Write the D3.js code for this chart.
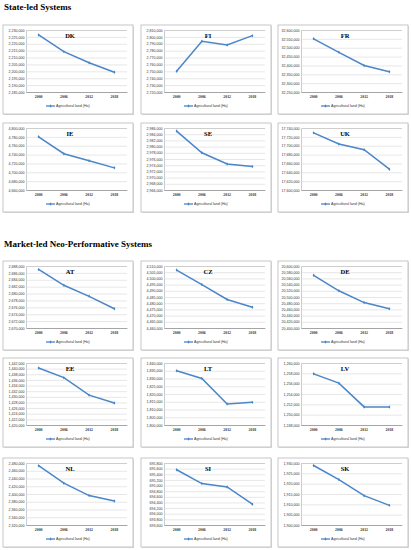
<!DOCTYPE html>
<html>
<head>
<meta charset="utf-8">
<script src="https://cdn.jsdelivr.net/npm/d3@7"></script>
<style>
  body { margin: 0; background: #fff; }
  .groupTitle { font-family: "Liberation Serif", serif; font-weight: bold; font-size: 9px; fill: #000; }
  .panelTitle { font-family: "Liberation Serif", serif; font-weight: bold; font-size: 6.5px; fill: #000; }
  .yTick { font-family: "Liberation Sans", sans-serif; font-size: 3.6px; fill: #333; }
  .xTick { font-family: "Liberation Serif", serif; font-weight: bold; font-size: 3.9px; fill: #333; }
  .legendText { font-family: "Liberation Sans", sans-serif; font-size: 3.6px; fill: #333; }
</style>
</head>
<body>
<div class="chart"></div>
<script>
// Categories
var years = ["2000", "2006", "2012", "2018"];
var legendLabel = "Agricultural land (Ha)";
var groupTitles = ["State-led Systems", "Market-led Neo-Performative Systems"];
var stateLed = ["DK", "FI", "FR", "IE", "SE", "UK"];
var marketLed = ["AT", "CZ", "DE", "EE", "LT", "LV", "NL", "SI", "SK"];

// Series values (Ha)
var dkValues = [2226400, 2214300, 2206200, 2199300];
var fiValues = [2750000, 2793600, 2788300, 2801800];
var frValues = [32550000, 32474000, 32400000, 32364000];
var ieValues = [4780000, 4742000, 4726000, 4710000];
var seValues = [2985000, 2978000, 2974400, 2973600];
var ukValues = [17729000, 17704000, 17691000, 17647000];
var atValues = [2687000, 2682400, 2679200, 2675600];
var czValues = [4506700, 4495000, 4483000, 4476800];
var deValues = [20570000, 20520000, 20482000, 20462000];
var eeValues = [1440200, 1436800, 1430600, 1427800];
var ltValues = [1835000, 1830000, 1813500, 1814600];
var lvValues = [1257900, 1256100, 1251500, 1251500];
var nlValues = [2473000, 2428000, 2396000, 2382000];
var siValues = [695560, 695070, 694950, 694340];
var skValues = [1928800, 1922000, 1914200, 1909500];

// Y tick labels: [lowest tick, highest tick, step]
var dkTicks = [2185000, 2230000, 5000];
var fiTicks = [2720000, 2810000, 10000];
var frTicks = [32250000, 32600000, 50000];
var ieTicks = [4660000, 4800000, 20000];
var seTicks = [2966000, 2986000, 2000];
var ukTicks = [17600000, 17740000, 20000];
var atTicks = [2670000, 2688000, 2000];
var czTicks = [4460000, 4510000, 5000];
var deTicks = [20400000, 20600000, 20000];
var eeTicks = [1420000, 1442000, 2000];
var ltTicks = [1800000, 1840000, 5000];
var lvTicks = [1248000, 1260000, 2000];
var nlTicks = [2320000, 2480000, 20000];
var siTicks = [693600, 695800, 200];
var skTicks = [1900000, 1930000, 5000];

// lookup table built from the arrays above
var panels = {
  DK: { values: dkValues, ticks: dkTicks }, FI: { values: fiValues, ticks: fiTicks },
  FR: { values: frValues, ticks: frTicks }, IE: { values: ieValues, ticks: ieTicks },
  SE: { values: seValues, ticks: seTicks }, UK: { values: ukValues, ticks: ukTicks },
  AT: { values: atValues, ticks: atTicks }, CZ: { values: czValues, ticks: czTicks },
  DE: { values: deValues, ticks: deTicks }, EE: { values: eeValues, ticks: eeTicks },
  LT: { values: ltValues, ticks: ltTicks }, LV: { values: lvValues, ticks: lvTicks },
  NL: { values: nlValues, ticks: nlTicks }, SI: { values: siValues, ticks: siTicks },
  SK: { values: skValues, ticks: skTicks }
};

// Layout
var svgWidth = 411;
var svgHeight = 550;
var colX = [3, 141, 278];
var stateRowY = [25, 123];
var marketRowY = [261, 358, 458];
var boxW = 130;
var boxH = 89;
var plot = { left: 23, right: 6, top: 5, bottom: 67 };
var lineColor = "#4A86C8";

var svg = d3.select(".chart")
  .append("svg")
  .attr("width", svgWidth)
  .attr("height", svgHeight);

// Group titles
svg.append("text").attr("class", "groupTitle").attr("x", 4).attr("y", 9.5).text(groupTitles[0]);
svg.append("text").attr("class", "groupTitle").attr("x", 4).attr("y", 247).text(groupTitles[1]);

function drawPanel(code, x0, y0) {
  var data = panels[code];
  var g = svg.append("g").attr("transform", `translate(${x0}, ${y0})`);

  // frame with a faint shadow
  g.append("rect")
    .attr("x", 1).attr("y", 1).attr("width", boxW).attr("height", boxH)
    .attr("fill", "#dedede");
  g.append("rect")
    .attr("x", 0).attr("y", 0).attr("width", boxW).attr("height", boxH)
    .attr("fill", "#fff").attr("stroke", "#b8b8b8").attr("stroke-width", 0.8);

  var xScale = d3.scaleBand()
    .domain(years)
    .range([plot.left, boxW - plot.right]);

  var yScale = d3.scaleLinear()
    .domain([data.ticks[0], data.ticks[1]])
    .range([plot.bottom, plot.top]);

  var tickVals = d3.range(data.ticks[0], data.ticks[1] + data.ticks[2] / 2, data.ticks[2]);

  // gridlines + y labels
  var yAxis = d3.axisLeft(yScale)
    .tickValues(tickVals)
    .tickSize(-(boxW - plot.right - plot.left))
    .tickPadding(1.5)
    .tickFormat(d3.format(","));

  var yG = g.append("g")
    .attr("transform", `translate(${plot.left}, 0)`)
    .call(yAxis);
  yG.select(".domain").attr("stroke", "#9a9a9a").attr("stroke-width", 0.5);
  yG.selectAll(".tick line").attr("stroke", "#cfcfcf").attr("stroke-width", 0.5);
  yG.selectAll(".tick text").attr("class", "yTick").attr("font-size", null).attr("font-family", null).attr("fill", null);

  // x axis
  var xAxis = d3.axisBottom(xScale).tickSize(0).tickPadding(3.5);
  var xG = g.append("g")
    .attr("transform", `translate(0, ${plot.bottom})`)
    .call(xAxis);
  xG.select(".domain").attr("stroke", "#8a8a8a").attr("stroke-width", 0.6);
  xG.selectAll(".tick text").attr("class", "xTick").attr("font-size", null).attr("font-family", null).attr("fill", null);

  // series
  var line = d3.line()
    .x((d, i) => xScale(years[i]) + xScale.bandwidth() / 2)
    .y(d => yScale(d));

  g.append("path")
    .datum(data.values)
    .attr("fill", "none")
    .attr("stroke", lineColor)
    .attr("stroke-width", 1.5)
    .attr("d", line);

  var diamond = d3.symbol().type(d3.symbolDiamond).size(3.5);
  g.selectAll(".marker")
    .data(data.values)
    .enter()
    .append("path")
    .attr("class", "marker")
    .attr("d", diamond)
    .attr("fill", lineColor)
    .attr("transform", (d, i) => `translate(${xScale(years[i]) + xScale.bandwidth() / 2}, ${yScale(d)})`);

  // panel title
  g.append("text")
    .attr("class", "panelTitle")
    .attr("x", boxW / 2 + 2)
    .attr("y", 12.5)
    .attr("text-anchor", "middle")
    .text(code);

  // legend
  var legendX = boxW / 2 - 22;
  var legendY = 81;
  g.append("line")
    .attr("x1", legendX).attr("x2", legendX + 9)
    .attr("y1", legendY).attr("y2", legendY)
    .attr("stroke", lineColor).attr("stroke-width", 1.3);
  g.append("path")
    .attr("d", diamond)
    .attr("fill", lineColor)
    .attr("transform", `translate(${legendX + 4.5}, ${legendY})`);
  g.append("text")
    .attr("class", "legendText")
    .attr("x", legendX + 10)
    .attr("y", legendY + 1.2)
    .text(legendLabel);
}

stateLed.forEach(function (code, i) {
  drawPanel(code, colX[i % 3], stateRowY[Math.floor(i / 3)]);
});

marketLed.forEach(function (code, i) {
  drawPanel(code, colX[i % 3], marketRowY[Math.floor(i / 3)]);
});
</script>
</body>
</html>
